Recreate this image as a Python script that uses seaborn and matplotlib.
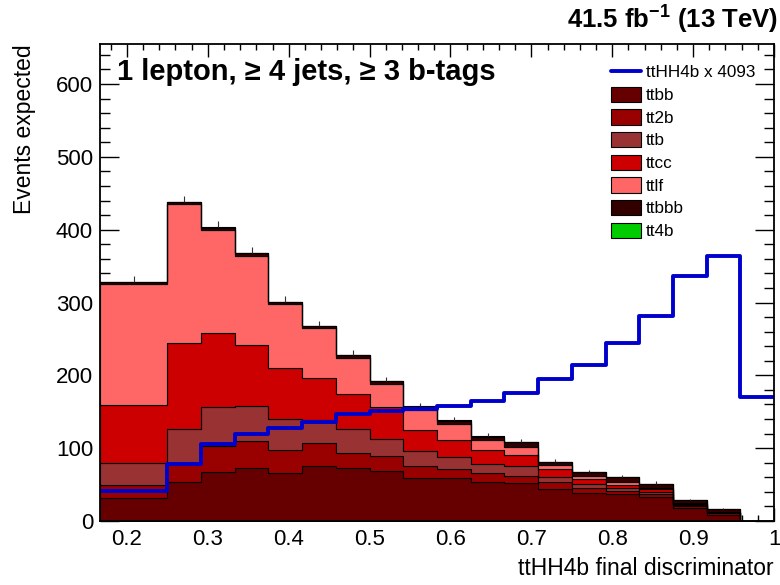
import numpy as np
import pandas as pd
import matplotlib
matplotlib.use("Agg")
import matplotlib.pyplot as plt
from matplotlib.ticker import MultipleLocator, FormatStrFormatter
from matplotlib.patches import Patch
from matplotlib.lines import Line2D
import seaborn as sns

sns.set_theme(style="ticks")
plt.rcParams['font.family'] = ['Liberation Sans', 'DejaVu Sans']
plt.rcParams['mathtext.fontset'] = 'custom'
plt.rcParams['mathtext.rm'] = 'Liberation Sans'
plt.rcParams['mathtext.bf'] = 'Liberation Sans:bold'
plt.rcParams['text.color'] = 'black'
plt.rcParams['axes.labelcolor'] = 'black'

# binning: first bin is merged, the rest are 1/24 wide
bin_edges = [1 / 6] + [k / 24 for k in range(6, 25)]

# backgrounds, stacked bottom -> top
ttbb  = [31, 53, 67, 73, 66, 76, 73, 69, 59, 59, 54, 52, 44, 38, 37, 33, 17.5, 8, 0]
tt2b  = [19, 27, 36, 37, 31, 31, 21, 20, 17, 13, 12, 10, 9, 7, 4, 4, 3, 2.5, 0]
ttb   = [30, 46, 54, 48, 43, 32, 32, 24, 20, 16, 12, 14, 7, 6, 4, 3, 1.5, 1, 0]
ttcc  = [79, 119, 101, 84, 70, 58, 49, 44, 29, 23, 20, 15, 12, 7, 5, 4, 1.5, 0.5, 0]
ttlf  = [167, 190, 142, 122, 88, 68, 49, 31, 28, 22, 13, 11, 5, 4, 4, 2, 1.5, 1, 0]
ttbbb = [2, 3, 3, 4, 3, 3, 4, 4, 4, 5, 5, 6, 4, 5, 6, 5, 3.5, 3, 0]
tt4b  = [0.2, 0.3, 0.3, 0.3, 0.3, 0.3, 0.3, 0.3, 0.3, 0.3, 0.3, 0.4, 0.3, 0.3, 0.4, 0.3, 0.2, 0.2, 0]
stat_err = [8, 8, 9, 8, 7, 7, 6, 5, 5, 5, 5, 4, 4, 3, 3, 3, 2, 2, 0]

# signal (scaled x 4093)
tthh4b = [41, 78.6, 106, 120, 128, 136, 147.6, 150.8, 154, 157.7, 164.6, 176,
          195.4, 213.8, 245, 281.8, 336, 363.7, 170]

procs = ['ttbb', 'tt2b', 'ttb', 'ttcc', 'ttlf', 'ttbbb', 'tt4b']
colors = {'ttbb': '#660000', 'tt2b': '#990000', 'ttb': '#993333',
          'ttcc': '#cc0000', 'ttlf': '#ff6666', 'ttbbb': '#330000',
          'tt4b': '#00cc00'}
values = [ttbb, tt2b, ttb, ttcc, ttlf, ttbbb, tt4b]

edges = np.array(bin_edges)
centers = (edges[:-1] + edges[1:]) / 2
nb = len(centers)
df = pd.DataFrame({
    'x': np.tile(centers, len(procs)),
    'w': np.concatenate(values),
    'proc': np.repeat(procs, nb),
})

fig = plt.figure(figsize=(7.8, 5.85), dpi=100)
ax = fig.add_axes([100 / 780, 1 - 521 / 585, 674 / 780, 477 / 585])

# reversed hue order puts ttbb at the bottom of the stack
sns.histplot(data=df, x='x', weights='w', hue='proc', hue_order=procs[::-1],
             palette=colors, multiple='stack', bins=bin_edges, element='step',
             edgecolor='black', linewidth=0.8, alpha=1, legend=False, ax=ax)

total = np.sum(values, axis=0)
ax.vlines(centers, total, total + np.array(stat_err), color='#333333', linewidth=0.8)

sns.histplot(x=centers, weights=tthh4b, bins=bin_edges, element='step',
             fill=False, color='#0000cc', linewidth=2.8, ax=ax)

# axes
ax.set_xlim(1 / 6, 1.0)
ax.set_ylim(0, 655)
ax.xaxis.set_major_locator(MultipleLocator(0.1))
ax.xaxis.set_minor_locator(MultipleLocator(0.02))
ax.yaxis.set_major_locator(MultipleLocator(100))
ax.yaxis.set_minor_locator(MultipleLocator(20))
ax.xaxis.set_major_formatter(FormatStrFormatter('%g'))
ax.tick_params(which='both', direction='in', top=True, right=True,
               labelsize=16, colors='black')
ax.tick_params(axis='x', which='major', length=9.5, width=1, pad=6)
ax.tick_params(axis='x', which='minor', length=4.5, width=1)
ax.tick_params(axis='y', which='major', length=14, width=1, pad=5)
ax.tick_params(axis='y', which='minor', length=7, width=1)
for s in ax.spines.values():
    s.set_linewidth(1.3)
    s.set_color('black')
ax.grid(False)

ax.set_xlabel('ttHH4b final discriminator', fontsize=16.5, loc='right', labelpad=5)
ax.set_ylabel('Events expected', fontsize=16.5, loc='top', labelpad=14)

# legend
handles = [Line2D([], [], color='#0000cc', linewidth=2.8)]
handles += [Patch(facecolor=colors[p], edgecolor='black', linewidth=0.8) for p in procs]
labels = ['ttHH4b x 4093'] + procs
ax.legend(handles, labels, loc='upper left', bbox_to_anchor=(611 / 780, 1 - 64 / 585),
          bbox_transform=fig.transFigure, frameon=False, fontsize=12.3,
          handlelength=1.75, handleheight=1.0, labelspacing=0.36,
          handletextpad=0.3, borderpad=0, borderaxespad=0)

# texts
fig.text(117 / 780, 1 - 72 / 585, '1 lepton, \u2265 4 jets, \u2265 3 b-tags',
         fontsize=21, fontweight='bold', va='center', ha='left')
fig.text(778 / 780, 1 - 19 / 585, r'41.5 fb$^{\mathbf{-1}}$ (13 TeV)',
         fontsize=18.5, fontweight='bold', va='center', ha='right')

fig.savefig('out.png', dpi=100)
